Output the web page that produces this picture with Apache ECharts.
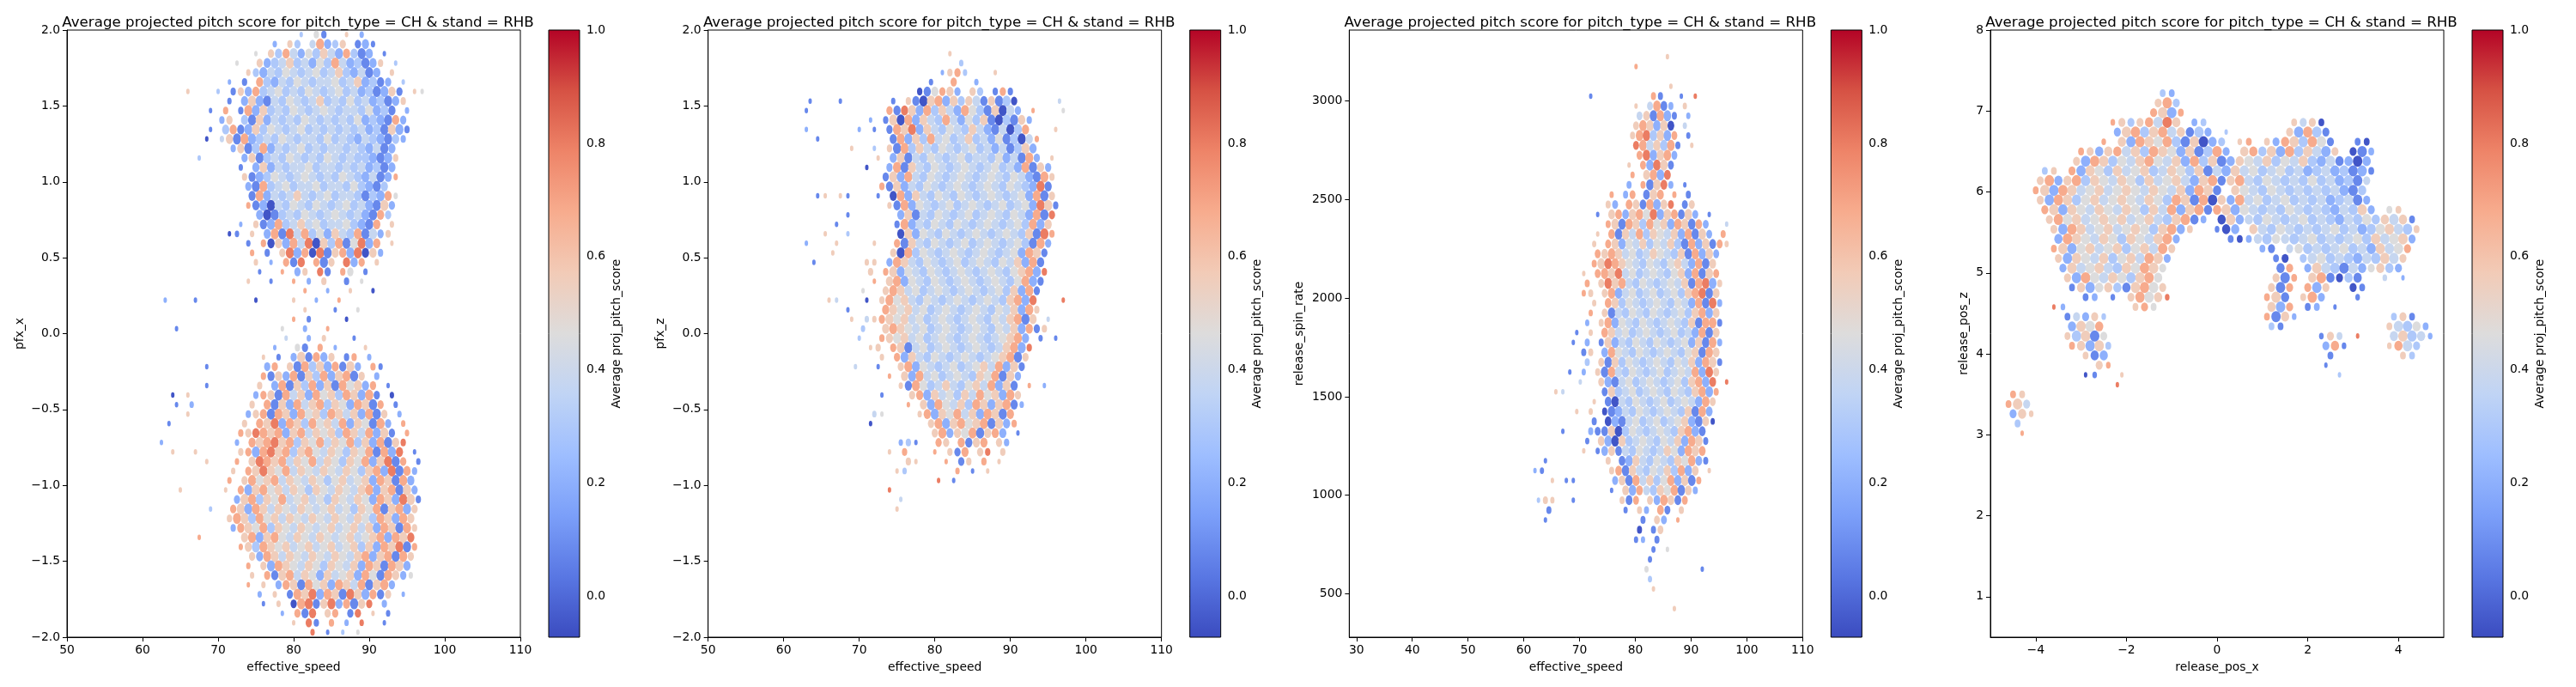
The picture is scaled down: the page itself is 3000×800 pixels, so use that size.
<!DOCTYPE html>
<html><head><meta charset="utf-8">
<script src="https://cdn.jsdelivr.net/npm/echarts@6/dist/echarts.min.js"></script>
<style>html,body{margin:0;padding:0;background:#fff}#c{width:3000px;height:800px}</style>
</head><body><div id="c"></div>
<script>
// ---------------- data ----------------
const TITLE = 'Average projected pitch score for pitch_type = CH & stand = RHB';
const X_NAMES = ['effective_speed', 'effective_speed', 'effective_speed', 'release_pos_x'];
const Y_NAMES = ['pfx_x', 'pfx_z', 'release_spin_rate', 'release_pos_z'];
const CBAR_NAME = 'Average proj_pitch_score';
const CBAR_MIN = -0.072, CBAR_MAX = 1.0;
const CBAR_TICKS = [0, 0.2, 0.4, 0.6, 0.8, 1.0];
const X_RANGES = [[50, 110], [50, 110], [28.7, 110], [-5, 5]];
const Y_RANGES = [[-2, 2], [-2, 2], [280, 3360], [0.5, 8]];
const X_TICKS = [[50, 60, 70, 80, 90, 100, 110], [50, 60, 70, 80, 90, 100, 110], [30, 40, 50, 60, 70, 80, 90, 100, 110], [-4, -2, 0, 2, 4]];
const Y_TICKS = [[-2, -1.5, -1, -0.5, 0, 0.5, 1, 1.5, 2], [-2, -1.5, -1, -0.5, 0, 0.5, 1, 1.5, 2], [500, 1000, 1500, 2000, 2500, 3000], [1, 2, 3, 4, 5, 6, 7, 8]];
const Y_DEC = [1, 1, 0, 0];
// average-score level of each hex cell code 0..9
const LEVELS = [-0.05, 0.08, 0.2, 0.3, 0.38, 0.46, 0.56, 0.68, 0.8, 0.93];
// hex bins: [x of first column, column step, y of first row, row step]; odd rows shifted half a column
const BINS1 = [62, 1, 1.97, 0.0625];
const BINS2 = [62, 1, 1.97, 0.0625];
const BINS3 = [62, 1.25, 3225, 50];
const BINS4 = [-4.6, 0.2, 7.22, 0.12];
// rows of cells: digit = score level, '.' = empty, [n] = n empty cells
const ROWS1 = [
"[19]3.51..6.2","[15]2.63.47236.121","[13]5.63742536427312.1","[10]5..62346342537423126.3","[12]632435434534632412.6",
"[9]2.1.732435434453462312.3","[4]6...3.16273453435434534231261.65","[9]1.2621435434634353423126","[7]1.7.172634354345434435231.2","[8]26.3162434354343435232172",
"[7]1.3712635434534343434231621","[6]0.4617234354344353432432132","[10]2613724345343443432412","[5]3[5]261343543435434332126","[11]1.2624344534434342312",
"[11]612354345434354324127","[12]2173453445344353213","[12]17243464345344313275","[12]71204354354345342162","[13]201343543454342173",
"[11]2.61273464534453217.6","[9]01.6.27184735264371426","[12]1.7062748063715827.6","[12]7.1.68270816728062","[13]6.2.718.716.827.6",
"[13]1..7.26.81.75.1","[12]6..1..7.2.6..1.5","[19]7..2..6..0",".2...1[7]0....6..2..7","[19]6...1..5",
"[18]7.1....0","..1[13]5..2..7","[17]4..2.6...1","[15]2..51.7.2...6","[14]6.1.261726.17.2",
"[6]1[7]27.6173627162.71","[14]71627163726716.2","[6]1[6]6.27163726175627.1","..0.6[8]27617462756376271.0","..1.2[7]6.7162746736527617.1",
"....6[7]2671762756376462716.2",".1[9]6.768276375647265172.7","[11]768767267465637647261.7","2[9]2.767867365746573627168","..6..6[5]6727867367546536571728.1",
"[6]6...7.687674657465365726817.1","[10]6.76865746546546536728172","[9]7.67567465465356456276172","...6[5]6.726756465365465467267162","[10]2673657456453654652762861",
"[7]3..7627646546545645365716726","[9]6763756465465465465376276","[10]2765736546545645646276176","[5]7[5]67267546546545645672768","[11]763765645645645636276817",
"[12]6276465465465467267176","[12]7.62765465365462761762","[12]6.71674652645627517625","[12]7.6.2761756276471672","[13]2.6.17682761862716.2",
"[14]1.6.07816827168.2","[16]2.718.67.18.6.1","[18]6.81.7.2.8..1","[20]8.1.3.5"
];
const ROWS2 = [
"","","[20]6","[21]3","[19]2673...6",
"[17]1..7..2","[16]015762.63.171",".1...1[6]1.610672636416130.....4",".1[10]718627364275316042.7...5","[9]2.16072643742536103162",
".2[6]2.1.1768264354364214037...6","..1[9]17263745346342513047","[7]6..3.61736435434534241362","[10]6.26143543453443524172.6","[9]0..2716435434543453427162",
"[11]16274354345434543542176","[11]71624354345434543543281","..16.61...1.0726435435434543452716","[12]61725434534543453452861","[6]1[6]261435434534543542718",
"[5]1[7]172435435434543453726","...6..3[6]062543543454345436187",".2...6....6..716435434534543453172","....6[7]607354345434543452761","..1[6]66.276435434534543546271",
"[9]6.7625435434543454356728","[10]7.672543543454345435721","[8]5..676453454345434536271","....64...0.675643543454345436728...8","[6]1....765645345434543546276",
"[7]6.46765645345434543546716.4","[8]3..6765453454345435462716","[8]3..76564534543454345672.1.1","[9]66.7614534543454346728","[11]6.726435434543456716",
"[7]4..1..67254345345647261","[12]7.6274534543657162","[13]6175346435647261.7.2","[11]1...672645364756276","[14]7.62754637626712",
"[10]45....6726574627617","[9]0[7]672675671627","[18]6726571672.1","[13]231..76.7167.62","[12]6.7...7.617.68.6",
"[14]66...7.16.7.6","[13]63[6]7.1.6","[18]8.1","[12]8","[13]4",
"[13]6"
];
const ROWS3 = [
"[19]6","[14]7","","[19]6","[8]1[8]71..1.8",
"[14]6.4712.6","[15]461721.2","[14]676260.4","[14]6783627.1","[14]8746371.6",
"[15]782672","[13]6.72861","[14]7.6728","[13]2.71682.1","[11]7.27.167.7.1",
"[10]62.7617268.16","[9]1.6726758267162.1","[10]761763756276172..4","[9]6.716473654627162.7","[8]6.762546354631726176",
"[9]767645346543617262","[8]768765435435642716","[7]6.776845345435627167","[7]7.686743543454617826","[7]76.67245345345367816",
"[8]6.76354345435427182","[8]7.61435435434536726","[7]2.672543543454361771","[6]1.6.76453454345342716","[5]1.2.162435435434526172",
"[7]16.27543543454356176","[7]3.616354345435462761","[5]1.2.617435434534547286","[6]4..62145345434536728.8","[3]64.....16345345435436727",
"[8]6.1043543453454276","[6]6.6.0124354345436172","[8]1.0214534534562160","[4]1...21160354345436721","[7]1.6206345435462761",
"[7]6.1261435434652767",".1[8]6.1264354365721","21[8].6716435463726.6","..6.11[5]2617463572617","[11]1.62743657162",
"366..1[6]617.627617","..1[10]1.62.71.6",".1[13]1.62.7","[15]0.16","[14]12.1",
"[17]1.5","[16]1","[16]5[7]1","[16]3","[17]6",
"","[20]6"
];
const ROWS4 = [
"[17]32","[16]673","[16]7627","[11]76367486.23[9]6460","[12]26736746132.3[6]62731",
"[10]7.627657316023.67.62763751..10","[8]76267463765261372.67362736426.012","[7]627635467546273612654635463241202","[4]36.7265364563465361426453453423423121","[3]6726736546536456426716743543435342314",
"[3]762764564565465462761.654354343434213","[3]6276356456546537617062745345343423412","[4]7626546546536472671762543435434324362.56","[4]675645656456436712.0624354345343243536461","[5]6276456456536726..102.6435434345342356436",
"[5]27654653654672.....102435434534345364562","[5]76256456356476[9]21.45343453426457","[5]6265463564762[11]10.345343243646","[6]264564365765[12]17.26431425632","[6]62754653675[12]617.671031..4.2",
"[7]16256316756[11]617.726..01","[8]12.1.67568[10]761.672...1","[5]82[7]675[12]627.12.1","[6]14263[17]7162[10]361","[7]2657[18]31[11]64352",
"[6]63615[23]164.8...46342","[7]76263[23]271....6743","[8]612[24]1[7]63","[10]67[23]1","[8]01..6[23]3",
"[12]8","76","764","266",".3",
".7"
];
const PANELS = [[ROWS1, BINS1], [ROWS2, BINS2], [ROWS3, BINS3], [ROWS4, BINS4]];

// ---------------- style ----------------
const COOLWARM = ['#3b4cc0', '#5977e3', '#7b9ff9', '#9ebeff', '#c0d4f5', '#dddcdc', '#f2cbb7', '#f7ac8e', '#ee8468', '#d65244', '#b40426'];
const FONT = 'DejaVu Sans';
const PLOT_LEFT0 = 78, PANEL_STEP = 746.67, PLOT_TOP = 35, PLOT_W = 528, PLOT_H = 707;
const CBAR_OFF = 561, CBAR_W = 36;
const Y_NAME_GAP = [48, 48, 51, 24];
const SIZE_FULL = [[9.5, 13], [9.5, 13], [8.8, 13], [11, 13]];
const SIZE_MIN = [[4, 6.5], [4, 6.5], [4, 6.5], [4, 6.5]];

function fmt(v, d) { return (v < 0 ? '\u2212' : '') + Math.abs(v).toFixed(d); }

function parseRows(rows) {
  const out = [];
  rows.forEach((s, r) => {
    let i = 0, k = 0;
    while (k < s.length) {
      const c = s[k];
      if (c === '[') { const e = s.indexOf(']', k); i += parseInt(s.slice(k + 1, e), 10); k = e + 1; continue; }
      if (c >= '0' && c <= '9') out.push([r, i, +c]);
      i++; k++;
    }
  });
  return out;
}

function buildData(rows, bins, p) {
  const cells = parseRows(rows);
  const occ = new Set(cells.map(c => c[0] + ',' + c[1]));
  const has = (r, i) => occ.has(r + ',' + i);
  return cells.map(([r, i, d]) => {
    const odd = r % 2 === 1;
    const x = bins[0] + (i + (odd ? 0.5 : 0)) * bins[1];
    const y = bins[2] - r * bins[3];
    const a = odd ? i : i - 1;
    const n = (has(r, i - 1) ? 1 : 0) + (has(r, i + 1) ? 1 : 0) + (has(r - 1, a) ? 1 : 0) + (has(r - 1, a + 1) ? 1 : 0) + (has(r + 1, a) ? 1 : 0) + (has(r + 1, a + 1) ? 1 : 0);
    const t = Math.max(0, n - 1) / 5;
    const f = SIZE_FULL[p], m = SIZE_MIN[p];
    return { value: [x, y, LEVELS[d]], symbolSize: [m[0] + (f[0] - m[0]) * t, m[1] + (f[1] - m[1]) * t] };
  });
}

const txt = { color: '#000', fontSize: 13.9, fontFamily: FONT };
const grids = [], xAxes = [], yAxes = [], series = [], titles = [];
for (let p = 0; p < 4; p++) {
  const left = PLOT_LEFT0 + PANEL_STEP * p;
  grids.push({ left: left, top: PLOT_TOP, width: PLOT_W, height: PLOT_H, show: true, borderColor: '#000', borderWidth: 1, containLabel: false });
  xAxes.push({
    type: 'value', gridIndex: p, min: X_RANGES[p][0], max: X_RANGES[p][1],
    name: X_NAMES[p], nameLocation: 'middle', nameGap: 28, nameTextStyle: txt,
    axisLine: { show: true, onZero: false, lineStyle: { color: '#000', width: 1 } },
    axisTick: { show: true, length: 5, lineStyle: { color: '#000' }, customValues: X_TICKS[p] },
    axisLabel: { ...txt, margin: 8, customValues: X_TICKS[p], formatter: v => fmt(v, 0) },
    splitLine: { show: false }
  });
  yAxes.push({
    type: 'value', gridIndex: p, min: Y_RANGES[p][0], max: Y_RANGES[p][1],
    name: Y_NAMES[p], nameLocation: 'middle', nameGap: Y_NAME_GAP[p], nameTextStyle: txt,
    axisLine: { show: true, onZero: false, lineStyle: { color: '#000', width: 1 } },
    axisTick: { show: true, length: 5, lineStyle: { color: '#000' }, customValues: Y_TICKS[p] },
    axisLabel: { ...txt, margin: 8, customValues: Y_TICKS[p], formatter: v => fmt(v, Y_DEC[p]) },
    splitLine: { show: false }
  });
  series.push({
    type: 'scatter', xAxisIndex: p, yAxisIndex: p, symbol: 'circle',
    data: buildData(PANELS[p][0], PANELS[p][1], p), itemStyle: { opacity: 1 }, silent: true
  });
  titles.push({ text: TITLE, left: left + PLOT_W / 2, top: 13, textAlign: 'center', textStyle: { color: '#000', fontSize: 16.7, fontWeight: 'normal', fontFamily: FONT } });
}
// colorbars
const stops = COOLWARM.slice().reverse().map((c, k) => ({ offset: k / (COOLWARM.length - 1), color: c }));
for (let p = 0; p < 4; p++) {
  const left = PLOT_LEFT0 + PANEL_STEP * p + CBAR_OFF;
  grids.push({ left: left, top: PLOT_TOP, width: CBAR_W, height: PLOT_H, show: true, borderColor: '#000', borderWidth: 1, z: 5 });
  xAxes.push({ type: 'value', gridIndex: 4 + p, min: 0, max: 1, show: false });
  yAxes.push({
    type: 'value', gridIndex: 4 + p, min: CBAR_MIN, max: CBAR_MAX, position: 'right',
    name: CBAR_NAME, nameLocation: 'middle', nameGap: 36, nameRotate: 90, nameTextStyle: txt,
    axisLine: { show: false },
    axisTick: { show: true, length: 5, lineStyle: { color: '#000' }, customValues: CBAR_TICKS },
    axisLabel: { ...txt, margin: 8, customValues: CBAR_TICKS, formatter: v => fmt(v, 1) },
    splitLine: { show: false }
  });
  series.push({
    type: 'custom', xAxisIndex: 4 + p, yAxisIndex: 4 + p, silent: true,
    data: [[0, CBAR_MIN, 1, CBAR_MAX]],
    renderItem: (params, api) => {
      const a = api.coord([0, CBAR_MAX]), b = api.coord([1, CBAR_MIN]);
      return { type: 'rect', shape: { x: a[0], y: a[1], width: b[0] - a[0], height: b[1] - a[1] },
        style: { fill: new echarts.graphic.LinearGradient(0, 0, 0, 1, stops) } };
    }
  });
}

const chart = echarts.init(document.getElementById('c'), null, { renderer: 'canvas' });
chart.setOption({
  animation: false,
  backgroundColor: '#fff',
  title: titles,
  grid: grids, xAxis: xAxes, yAxis: yAxes,
  visualMap: { show: false, type: 'continuous', min: CBAR_MIN, max: CBAR_MAX, dimension: 2, seriesIndex: [0, 1, 2, 3], inRange: { color: COOLWARM } },
  series: series
});
</script></body></html>
